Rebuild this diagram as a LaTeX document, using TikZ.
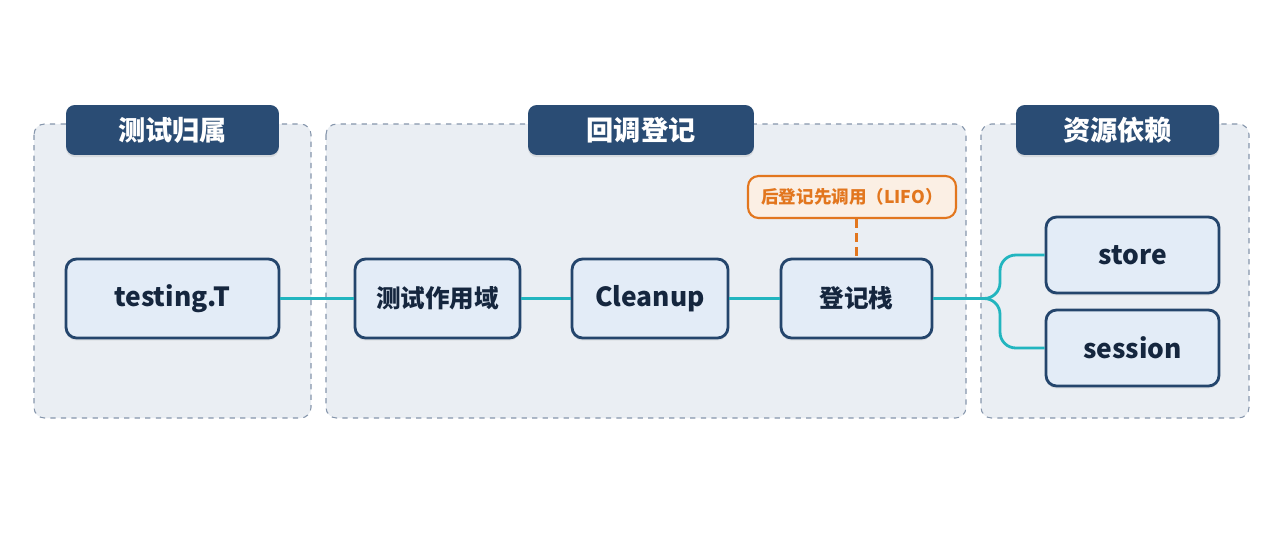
\documentclass[tikz,border=0pt]{standalone}
\usepackage{fontspec}
\setmainfont{Noto Sans CJK SC}
\usepackage{xcolor}
\usepackage{tikz}
\usetikzlibrary{positioning, shadows}

\definecolor{groupfill}{HTML}{EAEEF3}
\definecolor{groupline}{HTML}{8696AC}
\definecolor{tabblue}{HTML}{2A4C74}
\definecolor{boxfill}{HTML}{E3ECF7}
\definecolor{boxline}{HTML}{24456C}
\definecolor{boxtext}{HTML}{15263E}
\definecolor{linkcyan}{HTML}{22B5BF}
\definecolor{noteorange}{HTML}{E2761E}
\definecolor{notefill}{HTML}{FBEFE4}

\begin{document}
\begin{tikzpicture}[x=0.02cm, y=-0.02cm,
    group/.style={draw=groupline, fill=groupfill, dashed, line width=0.6pt, rounded corners=6pt},
    tab/.style={fill=tabblue, rounded corners=5pt, text=white, font=\bfseries\fontsize{15.5}{18}\selectfont,
        minimum height=1.0cm, inner sep=0pt, drop shadow={opacity=0.18, shadow xshift=0pt, shadow yshift=-1.2pt}},
    box/.style={draw=boxline, fill=boxfill, line width=1.6pt, rounded corners=6pt, text=boxtext,
        font=\bfseries\fontsize{15}{18}\selectfont, inner sep=0pt, minimum height=1.58cm,
        drop shadow={opacity=0.12, shadow xshift=0pt, shadow yshift=-1.5pt}},
    cjkbox/.style={box, font=\bfseries\fontsize{14}{17}\selectfont},
    note/.style={draw=noteorange, fill=notefill, line width=1.2pt, rounded corners=6pt, text=noteorange,
        font=\bfseries\fontsize{10}{12}\selectfont, inner sep=0pt, minimum width=4.16cm, minimum height=0.84cm},
    link/.style={draw=linkcyan, line width=1.6pt}]

    \useasboundingbox[fill=white] (0,0) rectangle (1280,548);

    % group panels
    \draw[group] (34,124) rectangle (311,418);
    \draw[group] (326,124) rectangle (966,418);
    \draw[group] (981,124) rectangle (1249,418);

    \node[tab, minimum width=4.26cm] (tabOwner) at (172.5,130) {测试归属};
    \node[tab, minimum width=4.52cm] (tabRegister) at (641,130) {回调登记};
    \node[tab, minimum width=4.06cm] (tabDeps) at (1117.5,130) {资源依赖};

    % nodes
    \node[box, minimum width=4.26cm] (testingT) at (172.5,298.5) {testing.T};
    \node[cjkbox, minimum width=3.30cm] (scope) at (437.5,298.5) {测试作用域};
    \node[box, minimum width=3.12cm] (cleanup) at (650,298.5) {Cleanup};
    \node[cjkbox, minimum width=3.02cm] (stack) at (856.5,298.5) {登记栈};
    \node[box, minimum width=3.46cm, minimum height=1.52cm] (store) at (1132.5,255) {store};
    \node[box, minimum width=3.46cm, minimum height=1.52cm] (session) at (1132.5,348) {session};

    \node[note] (lifo) at (852,197) {后登记先调用（LIFO）};

    % connectors
    \draw[link] (testingT) -- (scope);
    \draw[link] (scope) -- (cleanup);
    \draw[link] (cleanup) -- (stack);
    \coordinate (fork) at (1000,298.5);
    \draw[link, rounded corners=9pt] (stack.east) -- (fork) |- (store.west);
    \draw[link, rounded corners=9pt] (stack.east) -- (fork) |- (session.west);
    \draw[noteorange, line width=1.4pt, dash pattern=on 5pt off 3pt] (lifo.south -| stack.north) -- (stack.north);
\end{tikzpicture}
\end{document}
